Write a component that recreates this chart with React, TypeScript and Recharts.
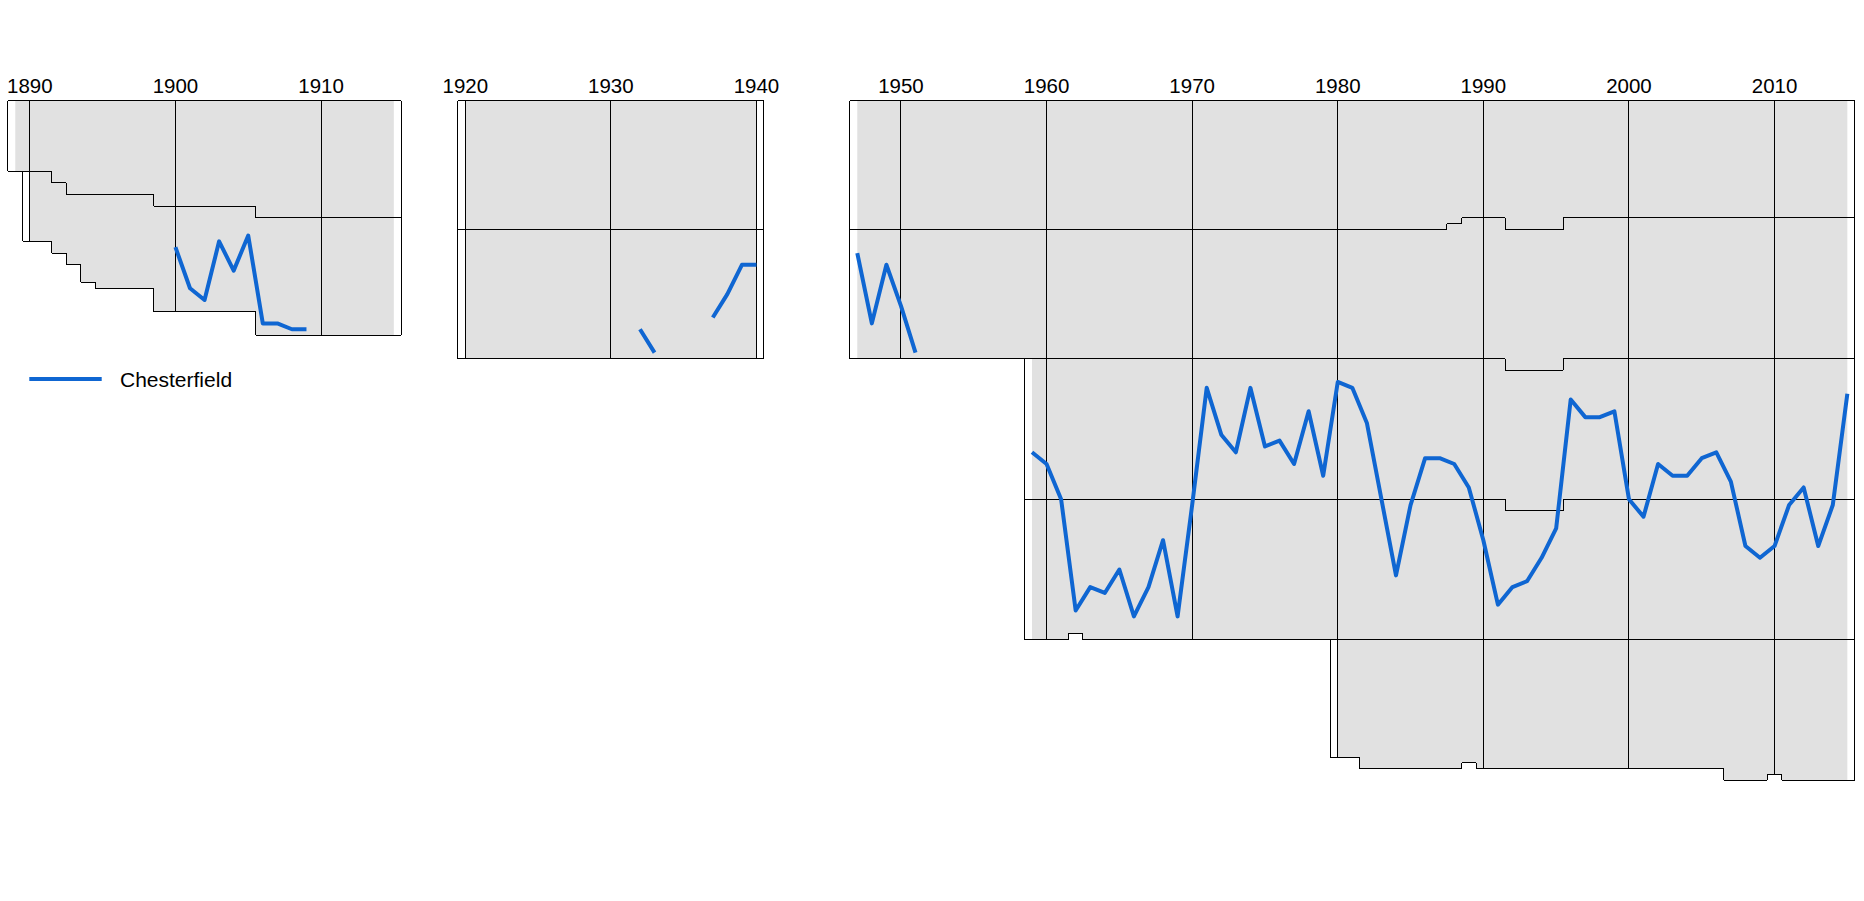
import { ComposedChart, Line, Area, XAxis, YAxis } from 'recharts'

// league sizes per tier, as runs of [firstSeason, lastSeason, clubs]
type Run = [number, number, number]

const tiers1890s: Run[][] = [
  [[1889, 1891, 12], [1892, 1892, 14], [1893, 1898, 16], [1899, 1905, 18], [1906, 1915, 20]],
  [[1890, 1893, 12], [1894, 1894, 15], [1895, 1898, 16], [1899, 1905, 18], [1906, 1915, 20]],
]
const tiers1920s: Run[][] = [
  [[1920, 1940, 22]],
  [[1920, 1940, 22]],
]
const tiersPostwar: Run[][] = [
  [[1947, 1987, 22], [1988, 1988, 21], [1989, 1991, 20], [1992, 1995, 22], [1996, 2015, 20]],
  [[1947, 1987, 22], [1988, 1988, 23], [1989, 1995, 24], [1996, 2015, 24]],
  [[1959, 2015, 24]],
  [[1959, 1961, 24], [1962, 1962, 23], [1963, 1991, 24], [1992, 1995, 22], [1996, 2015, 24]],
  [[1980, 1981, 20], [1982, 1988, 22], [1989, 1989, 21], [1990, 2006, 22], [2007, 2009, 24], [2010, 2010, 23], [2011, 2015, 24]],
]

const ticks1890s = [1890, 1900, 1910]
const ticks1920s = [1920, 1930, 1940]
const ticksPostwar = [1950, 1960, 1970, 1980, 1990, 2000, 2010]

// Chesterfield, overall position (1 = top of the top flight)
const chesterfield1890s = [
  { season: 1900, pos: 25 }, { season: 1901, pos: 32 }, { season: 1902, pos: 34 },
  { season: 1903, pos: 24 }, { season: 1904, pos: 29 }, { season: 1905, pos: 23 },
  { season: 1906, pos: 38 }, { season: 1907, pos: 38 }, { season: 1908, pos: 39 },
  { season: 1909, pos: 39 },
]
const chesterfield1920s = [
  { season: 1932, pos: 39 }, { season: 1933, pos: 43 }, { season: 1934, pos: null },
  { season: 1936, pos: null }, { season: 1937, pos: 37 }, { season: 1938, pos: 33 },
  { season: 1939, pos: 28 }, { season: 1940, pos: 28 },
]
const chesterfieldPostwarStart = 1947
const chesterfieldPostwar = [
  26, 38, 28, 35, 43, null, null, null, null, null, null, null,
  60, 62, 68, 87, 83, 84, 80, 88, 83, 75, 88, 69,
  49, 57, 60, 49, 59, 58, 62, 53, 64, 48, 49, 55, 68,
  81, 69, 61, 61, 62, 66, 75, 86, 83, 82, 78, 73,
  51, 54, 54, 53, 68, 71, 62, 64, 64, 61, 60, 65,
  76, 78, 76, 69, 66, 76, 69, 50,
]

const BLUE = '#0f66d2'
const GREY = '#e1e1e1'
const FONT = 'Liberation Sans, Arial, sans-serif'

const TOP = 100.7
const UNIT = 5.86
const YMAX = 116
const PX_YEAR = 14.56
const PAD = 30

function sizeOf(tier: Run[], s: number) {
  const r = tier.find(([a, b]) => s >= a && s <= b)
  return r ? r[2] : 0
}

function Panel({ left, first, last, tiers, ticks, chesterfield }: {
  left: number
  first: number
  last: number
  tiers: Run[][]
  ticks: number[]
  chesterfield: { season: number; pos: number | null }[]
}) {
  const d0 = first - 0.5
  const d1 = last + 0.5
  const w = (d1 - d0) * PX_YEAR
  const seasons: number[] = []
  for (let s = first; s <= last; s++) seasons.push(s)
  const cum = (k: number, s: number) =>
    tiers.slice(0, k + 1).reduce((acc, t) => acc + sizeOf(t, s), 0)
  const total = (s: number) => cum(tiers.length - 1, s)

  // grey mass of all clubs: a new tier starts at its first season, other changes at the season edge
  const fill = seasons.map((s, i) => {
    const prev = seasons[i - 1]
    const newTier = i > 0 && tiers.some((t) => sizeOf(t, s) > 0 && sizeOf(t, prev) === 0)
    return { x: i === 0 || newTier ? s : s - 0.5, v: total(s) }
  })
  fill.push({ x: last, v: total(last) })

  const outline = [
    { x: d0, v: 0 },
    ...seasons.map((s) => ({ x: s - 0.5, v: total(s) })),
    { x: d1, v: total(last) },
    { x: d1, v: 0 },
    { x: d0, v: 0 },
  ]
  const bounds = tiers.slice(0, -1).map((t, k) => {
    const on = seasons.filter((s) => sizeOf(t, s) > 0)
    const end = on[on.length - 1]
    return [
      ...on.map((s) => ({ x: s - 0.5, v: cum(k, s) })),
      { x: end + 0.5, v: cum(k, end) },
    ]
  })
  const grid = ticks.map((d) => [{ x: d, v: 0 }, { x: d, v: total(d) }])
  const blue = chesterfield.map((c) => ({ x: c.season, v: c.pos }))

  const black = {
    type: 'stepAfter' as const,
    dataKey: 'v',
    stroke: '#000',
    strokeWidth: 1,
    dot: false,
    activeDot: false,
    isAnimationActive: false,
    shapeRendering: 'crispEdges',
  }

  return (
    <div style={{ position: 'absolute', left: left - PAD, top: 0 }}>
      <ComposedChart
        width={w + 2 * PAD}
        height={TOP + YMAX * UNIT + 10}
        margin={{ top: 0, right: PAD, bottom: 10, left: PAD }}
      >
        <XAxis
          type="number"
          dataKey="x"
          orientation="top"
          domain={[d0, d1]}
          ticks={ticks}
          interval={0}
          axisLine={false}
          tickLine={false}
          height={TOP}
          tick={{ fontSize: 20.5, fill: '#000', fontFamily: FONT }}
        />
        <YAxis type="number" hide domain={[0, YMAX]} reversed />
        <Area
          data={fill}
          dataKey="v"
          type="stepAfter"
          baseValue={0}
          fill={GREY}
          fillOpacity={1}
          stroke="none"
          dot={false}
          activeDot={false}
          isAnimationActive={false}
        />
        {bounds.map((b, i) => (
          <Line key={'b' + i} data={b} {...black} />
        ))}
        {grid.map((g, i) => (
          <Line key={'g' + i} data={g} {...black} type="linear" />
        ))}
        <Line data={outline} {...black} />
        <Line
          data={blue}
          dataKey="v"
          type="linear"
          stroke={BLUE}
          strokeWidth={4}
          strokeLinejoin="round"
          dot={false}
          activeDot={false}
          connectNulls={false}
          isAnimationActive={false}
        />
      </ComposedChart>
    </div>
  )
}

export default function App() {
  const postwar = chesterfieldPostwar.map((pos, i) => ({
    season: chesterfieldPostwarStart + i,
    pos,
  }))
  return (
    <div style={{ position: 'absolute', left: 0, top: 0, width: 1864, height: 901, background: '#fff' }}>
      <Panel left={7.5} first={1889} last={1915} tiers={tiers1890s} ticks={ticks1890s} chesterfield={chesterfield1890s} />
      <Panel left={458.4} first={1920} last={1940} tiers={tiers1920s} ticks={ticks1920s} chesterfield={chesterfield1920s} />
      <Panel left={850.3} first={1947} last={2015} tiers={tiersPostwar} ticks={ticksPostwar} chesterfield={postwar} />
      <svg style={{ position: 'absolute', left: 0, top: 360 }} width={260} height={40}>
        <line x1={29.3} x2={101.7} y1={19} y2={19} stroke={BLUE} strokeWidth={4} />
        <text x={120} y={26.7} fontSize={21} fontFamily={FONT} fill="#000">
          Chesterfield
        </text>
      </svg>
    </div>
  )
}
